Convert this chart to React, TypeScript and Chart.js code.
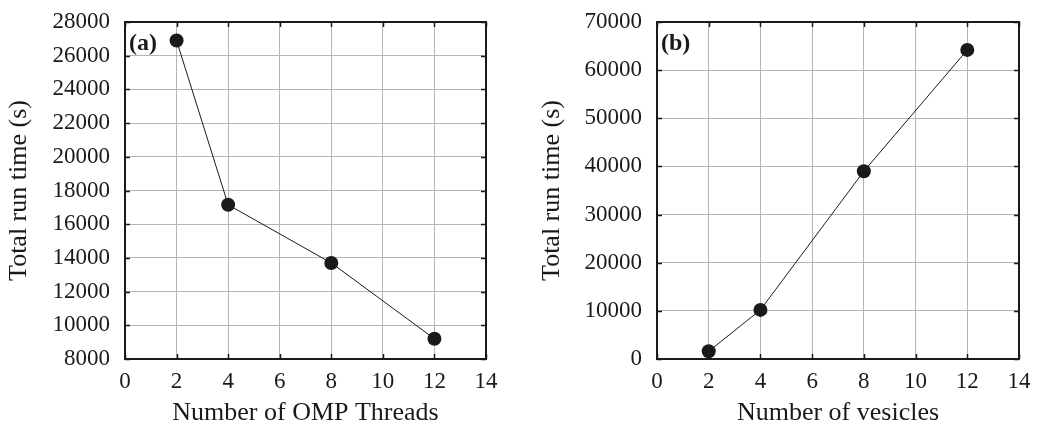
import React, { useEffect, useRef } from "react";
import { Chart, registerables } from "chart.js";

Chart.register(...registerables);

const threadCounts = [2, 4, 8, 12];
const threadRunTimes = [26900, 17150, 13700, 9200];
const vesicleCounts = [2, 4, 8, 12];
const vesicleRunTimes = [1600, 10200, 39000, 64200];
const xTickValues = [0, 2, 4, 6, 8, 10, 12, 14];

const FONT = "'Liberation Serif', 'DejaVu Serif', serif";

const framePlugin = {
  id: "frame",
  beforeDatasetsDraw(chart: any, _args: any, opts: any) {
    const { ctx, chartArea, scales } = chart;
    const { left, right, top, bottom } = chartArea;
    const x = scales.x;
    const y = scales.y;
    ctx.save();
    ctx.strokeStyle = "#1a1a1a";
    ctx.lineWidth = 1.5;
    const tl = 5;
    ctx.beginPath();
    x.ticks.forEach((t: any) => {
      const px = Math.round(x.getPixelForValue(t.value)) + 0.5;
      ctx.moveTo(px, bottom);
      ctx.lineTo(px, bottom - tl);
      ctx.moveTo(px, top);
      ctx.lineTo(px, top + tl);
    });
    y.ticks.forEach((t: any) => {
      const py = Math.round(y.getPixelForValue(t.value)) + 0.5;
      ctx.moveTo(left, py);
      ctx.lineTo(left + tl, py);
      ctx.moveTo(right, py);
      ctx.lineTo(right - tl, py);
    });
    ctx.stroke();
    ctx.lineWidth = 2;
    ctx.strokeRect(left, top, right - left, bottom - top);
    ctx.fillStyle = "#1a1a1a";
    ctx.font = `bold 24px ${FONT}`;
    ctx.textBaseline = "middle";
    ctx.textAlign = "left";
    ctx.fillText(opts.tag, left + 4, top + 22);
    ctx.restore();
  },
};

type PanelProps = {
  xs: number[];
  ys: number[];
  yMin: number;
  yMax: number;
  yStep: number;
  xTitle: string;
  tag: string;
  width: number;
  yAxisWidth: number;
  rightPad: number;
  yTitlePad: number;
};

function Panel(p: PanelProps) {
  const ref = useRef<HTMLCanvasElement>(null);
  useEffect(() => {
    if (!ref.current) return;
    const chart = new Chart(ref.current, {
      type: "line",
      data: {
        datasets: [
          {
            data: p.xs.map((x, i) => ({ x, y: p.ys[i] })),
            borderColor: "#1a1a1a",
            borderWidth: 1,
            backgroundColor: "#1a1a1a",
            pointBackgroundColor: "#1a1a1a",
            pointBorderColor: "#1a1a1a",
            pointRadius: 7,
            pointBorderWidth: 0,
            tension: 0,
            clip: false as any,
          },
        ],
      },
      options: {
        animation: false,
        responsive: false,
        layout: { padding: { top: 22, right: p.rightPad, bottom: 0, left: 0 } },
        plugins: {
          legend: { display: false },
          tooltip: { enabled: false },
          frame: { tag: p.tag },
        } as any,
        scales: {
          x: {
            type: "linear",
            min: 0,
            max: 14,
            afterBuildTicks: (s: any) => {
              s.ticks = xTickValues.map((v) => ({ value: v }));
            },
            afterFit: (s: any) => {
              s.height = 68;
              s.paddingLeft = 0;
              s.paddingRight = 0;
            },
            grid: { color: "#b5b5b5", lineWidth: 1, drawTicks: false },
            border: { display: false },
            ticks: {
              color: "#1a1a1a",
              font: { family: FONT, size: 23 },
              padding: 9,
            },
            title: {
              display: true,
              text: p.xTitle,
              color: "#1a1a1a",
              font: { family: FONT, size: 26, lineHeight: 1.05 },
              padding: { top: 0, bottom: 0 },
            },
          },
          y: {
            type: "linear",
            min: p.yMin,
            max: p.yMax,
            ticks: {
              stepSize: p.yStep,
              color: "#1a1a1a",
              font: { family: FONT, size: 23 },
              padding: 15,
              callback: (v: any) => String(v),
            },
            afterFit: (s: any) => {
              s.width = p.yAxisWidth;
              s.paddingTop = 0;
              s.paddingBottom = 0;
            },
            grid: { color: "#b5b5b5", lineWidth: 1, drawTicks: false },
            border: { display: false },
            title: {
              display: true,
              text: "Total run time (s)",
              color: "#1a1a1a",
              font: { family: FONT, size: 26 },
              padding: { top: p.yTitlePad, bottom: 0 },
            },
          },
        },
      },
      plugins: [framePlugin],
    });
    return () => chart.destroy();
  }, []);
  return <canvas ref={ref} width={p.width} height={427} style={{ display: "block" }} />;
}

export default function App() {
  return (
    <div
      style={{
        position: "absolute",
        left: 0,
        top: 0,
        width: 1037,
        height: 427,
        display: "flex",
        background: "#fff",
      }}
    >
      <Panel
        xs={threadCounts}
        ys={threadRunTimes}
        yMin={8000}
        yMax={28000}
        yStep={2000}
        xTitle="Number of OMP Threads"
        tag="(a)"
        width={520}
        yAxisWidth={125}
        rightPad={34}
        yTitlePad={4}
      />
      <Panel
        xs={vesicleCounts}
        ys={vesicleRunTimes}
        yMin={0}
        yMax={70000}
        yStep={10000}
        xTitle="Number of vesicles"
        tag="(b)"
        width={517}
        yAxisWidth={137}
        rightPad={18}
        yTitlePad={17}
      />
    </div>
  );
}
